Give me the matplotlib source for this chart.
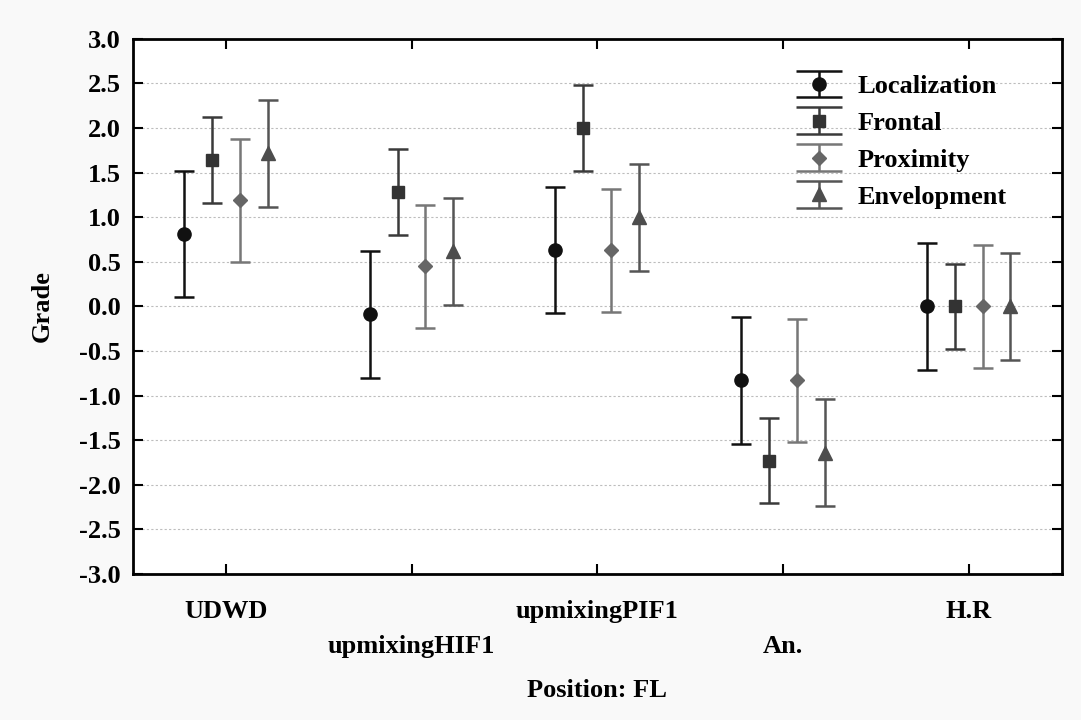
import matplotlib
matplotlib.use("Agg")
import matplotlib.pyplot as plt
from matplotlib.legend_handler import HandlerErrorbar
from matplotlib.lines import Line2D
import numpy as np

# Grades per position and attribute (mean with confidence half-width)
positions = ["UDWD", "upmixingHIF1", "upmixingPIF1", "An.", "H.R"]
series = ["Localization", "Frontal", "Proximity", "Envelopment"]
localization = [0.81, -0.09, 0.63, -0.83, 0.0]
frontal = [1.64, 1.28, 2.00, -1.73, 0.0]
proximity = [1.19, 0.45, 0.63, -0.83, 0.0]
envelopment = [1.72, 0.62, 1.00, -1.64, 0.0]
half_width = [0.71, 0.48, 0.69, 0.60]
y_ticks = [-3.0, -2.5, -2.0, -1.5, -1.0, -0.5, 0.0, 0.5, 1.0, 1.5, 2.0, 2.5, 3.0]

means = [localization, frontal, proximity, envelopment]
offsets = [-0.225, -0.075, 0.075, 0.225]
markers = ["o", "s", "D", "^"]
marker_sizes = [9.5, 8.5, 7, 10]
colors = ["#111111", "#333333", "#666666", "#4d4d4d"]
line_colors = ["#111111", "#3a3a3a", "#777777", "#555555"]

FS = 19

plt.rcParams["font.family"] = ["Liberation Serif", "DejaVu Serif"]
plt.rcParams["font.weight"] = "bold"

fig = plt.figure(figsize=(10.81, 7.2), dpi=100, facecolor="#f9f9f9")
ax = fig.add_axes([0.123, 0.203, 0.859, 0.743])
ax.set_facecolor("white")

x = np.arange(len(positions))
for i, name in enumerate(series):
    ax.errorbar(x + offsets[i], means[i], yerr=half_width[i], fmt=markers[i],
                color=line_colors[i], mfc=colors[i], mec=colors[i],
                ms=marker_sizes[i], elinewidth=1.8, capsize=7, capthick=1.8,
                label=name, zorder=3)

ax.set_xlim(-0.5, len(positions) - 0.5)
ax.set_ylim(-3.0, 3.0)
ax.set_yticks(y_ticks)
ax.set_yticklabels([f"{v:.1f}" for v in y_ticks])
ax.set_xticks(x)
ax.set_xticklabels(positions)

ax.yaxis.grid(True, linestyle=(0, (2, 2)), color="#bdbdbd", linewidth=0.8)
ax.set_axisbelow(True)

for s in ax.spines.values():
    s.set_linewidth(2)
    s.set_color("black")

ax.tick_params(axis="both", direction="in", length=7, width=1.5,
               labelsize=FS, top=True, right=True)
ax.tick_params(axis="y", pad=9)

for i, tick in enumerate(ax.xaxis.get_major_ticks()):
    tick.set_pad(19 if i % 2 == 0 else 44)

for lbl in ax.get_xticklabels() + ax.get_yticklabels():
    lbl.set_fontweight("bold")

ax.set_ylabel("Grade", fontsize=FS, fontweight="bold", labelpad=18)
ax.set_xlabel("Position: FL", fontsize=FS, fontweight="bold", labelpad=15)


def wide_caps(legend_handle, orig_handle):
    # widen the caps of the legend error bars
    legend_handle.update_from(orig_handle)
    if isinstance(legend_handle, Line2D) and legend_handle.get_marker() == "_":
        legend_handle.set_markersize(33)


leg = ax.legend(loc="upper right", bbox_to_anchor=(0.961, 0.968), frameon=False,
                prop={"size": FS, "weight": "bold"}, handlelength=2.0,
                handletextpad=0.45, labelspacing=0.51, borderaxespad=0.3,
                handler_map={matplotlib.container.ErrorbarContainer:
                             HandlerErrorbar(yerr_size=0.5, update_func=wide_caps)})

fig.savefig("out.png", dpi=100, facecolor=fig.get_facecolor())
